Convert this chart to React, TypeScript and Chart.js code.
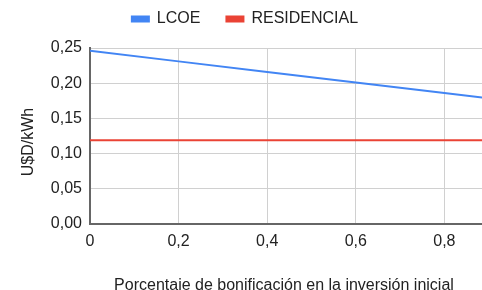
import React, { useEffect, useRef } from "react";
import { Chart, registerables } from "chart.js";

Chart.register(...registerables);

const xValues = [0, 0.2, 0.4, 0.6, 0.8, 0.9];
const lcoe = [0.246, 0.231, 0.216, 0.201, 0.186, 0.1785];
const residencial = [0.119, 0.119, 0.119, 0.119, 0.119, 0.119];
const seriesNames = ["LCOE", "RESIDENCIAL"];
const yTitle = "U$D/kWh";
const xTitle = "Porcentaje de bonificación en la inversión inicial";

const legendTweakPlugin = {
  id: "legendTweak",
  beforeInit(chart: any) {
    const legend = chart.legend;
    if (!legend) return;
    const origFit = legend.fit;
    legend.fit = function () {
      origFit.call(this);
      this.height = 48;
    };
    const origDraw = legend.draw;
    legend.draw = function () {
      const ctx = this.ctx;
      ctx.save();
      ctx.translate(4, -15);
      origDraw.call(this);
      ctx.restore();
    };
  },
  afterLayout(chart: any) {
    const shift = (scale: any, dx: number, dy: number) => {
      if (!scale || scale._titleShifted) return;
      const orig = scale.drawTitle;
      scale.drawTitle = function () {
        const ctx = this.ctx;
        ctx.save();
        ctx.translate(dx, dy);
        orig.call(this);
        ctx.restore();
      };
      scale._titleShifted = true;
    };
    shift(chart.scales.y, 1, 6);
    shift(chart.scales.x, -2, 5);
  },
};

export default function App() {
  const ref = useRef<HTMLCanvasElement | null>(null);
  useEffect(() => {
    if (!ref.current) return;
    const font = "'Liberation Sans', Arial, sans-serif";
    const chart = new Chart(ref.current, {
      type: "line",
      plugins: [legendTweakPlugin],
      data: {
        datasets: [
          {
            label: seriesNames[0],
            data: xValues.map((x, i) => ({ x, y: lcoe[i] })),
            borderColor: "#4285F4",
            backgroundColor: "#4285F4",
            borderWidth: 2,
            pointRadius: 0,
          },
          {
            label: seriesNames[1],
            data: xValues.map((x, i) => ({ x, y: residencial[i] })),
            borderColor: "#EA4335",
            backgroundColor: "#EA4335",
            borderWidth: 2,
            pointRadius: 0,
          },
        ],
      },
      options: {
        animation: false,
        responsive: false,
        maintainAspectRatio: false,
        layout: { padding: 0 },
        plugins: {
          legend: {
            position: "top",
            labels: {
              boxWidth: 17,
              boxHeight: 5,
              padding: 26,
              color: "#222",
              font: { family: font, size: 16 },
            },
          },
          tooltip: { enabled: false },
        },
        scales: {
          x: {
            type: "linear",
            min: 0,
            max: 0.885,
            ticks: {
              stepSize: 0.2,
              includeBounds: false,
              color: "#222",
              font: { family: font, size: 16 },
              padding: 8,
              callback: (v: any) => String(Math.round(Number(v) * 10) / 10).replace(".", ","),
            },
            grid: { color: "#d0d0d0", drawTicks: false },
            border: { color: "#666", width: 2 },
            title: {
              display: true,
              text: xTitle,
              color: "#222",
              font: { family: font, size: 16 },
              padding: { top: 0, bottom: 0 },
            },
            afterFit: (s: any) => {
              s.height = 66;
            },
          },
          y: {
            min: 0,
            max: 0.25,
            ticks: {
              stepSize: 0.05,
              color: "#222",
              font: { family: font, size: 16 },
              padding: 8,
              callback: (v: any) => Number(v).toFixed(2).replace(".", ","),
            },
            grid: { color: "#d0d0d0", drawTicks: false },
            border: { color: "#666", width: 2 },
            title: {
              display: true,
              text: yTitle,
              color: "#222",
              font: { family: font, size: 16 },
              padding: { top: 18, bottom: 0 },
            },
            afterFit: (s: any) => {
              s.width = 90;
            },
          },
        },
      },
    });
    return () => chart.destroy();
  }, []);
  return (
    <div style={{ position: "absolute", left: 0, top: 0, width: 482, height: 290, background: "#fff" }}>
      <canvas ref={ref} width={482} height={290} style={{ display: "block" }} />
    </div>
  );
}
